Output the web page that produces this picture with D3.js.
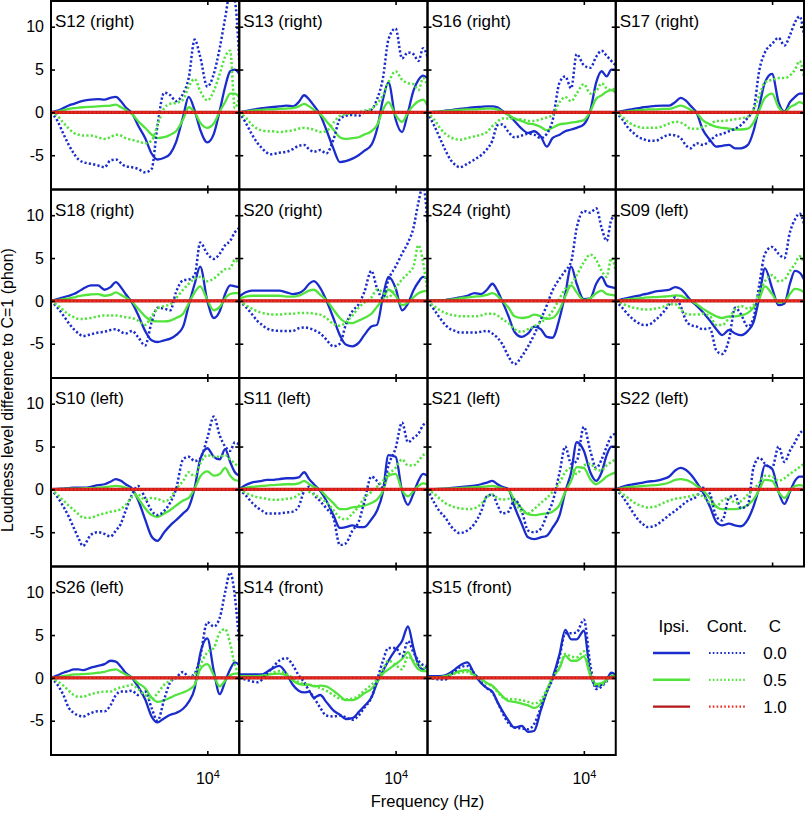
<!DOCTYPE html>
<html><head><meta charset="utf-8">
<script src="https://cdn.jsdelivr.net/npm/d3@7"></script>
<style>
body{margin:0;background:#fff}
svg{display:block}
text{font-family:"Liberation Sans",Arial,Helvetica,sans-serif;fill:#000}
</style>
</head><body>
<svg id="chart" width="805" height="813"></svg>
<script>
// ---------- data ----------
const freqHz = [1000,1100,1200,1300,1400,1500,1600,1800,2000,2200,2400,2600,2800,3000,3300,3600,4000,4400,4800,5300,5800,6300,7000,7600,8300,9000,10000,11000,12000,13000,14000,15000,16000];

const subjects = ["S12 (right)","S13 (right)","S16 (right)","S17 (right)",
                  "S18 (right)","S20 (right)","S24 (right)","S09 (left)",
                  "S10 (left)","S11 (left)","S21 (left)","S22 (left)",
                  "S26 (left)","S14 (front)","S15 (front)"];

// C = 0.0, ipsilateral (solid blue)
const ipsiC0 = [
 [0,0.2,0.5,0.8,1.0,1.2,1.35,1.5,1.55,1.5,1.7,1.8,1.3,0.6,-0.1,-1.5,-3,-4.8,-5.5,-5.3,-4.8,-3.5,-0.5,1.8,0.2,-2,-3.5,-2.5,0.2,3,4.8,5,4.5],
 [0,0.15,0.3,0.4,0.5,0.55,0.6,0.7,0.8,0.7,1.2,2.0,1.5,0.8,-0.3,-2.0,-4.2,-5.8,-5.7,-5.4,-5.0,-4.5,-3.8,-2.0,1.5,3.5,-0.8,-2.3,0,2.5,3.8,4.3,4.0],
 [0,0.05,0.1,0.2,0.25,0.35,0.4,0.5,0.6,0.65,0.7,0.7,0.6,0.2,-0.3,-1.0,-1.9,-2.4,-2.2,-2.8,-4.0,-3.0,-2.6,-2.2,-2.0,-1.8,-1.4,0.2,3.5,4.8,4.2,5.0,5.0],
 [0,0.15,0.3,0.4,0.5,0.6,0.65,0.75,0.8,0.8,1.2,1.7,1.4,0.8,-0.1,-2.0,-3.2,-4.0,-3.9,-3.8,-4.2,-4.2,-3.8,-2.2,0.8,3.5,4.5,1.2,0.1,1.2,1.8,2.2,2.2],
 [0,0.2,0.4,0.6,0.8,1.1,1.4,1.8,1.8,1.3,1.6,2.2,1.6,0.8,-0.2,-1.6,-3.5,-4.6,-4.8,-4.6,-4.4,-4.0,-3.0,-0.5,2.0,4.0,0.0,-2.0,-1.2,0.8,1.8,1.7,1.6],
 [0.5,1.0,1.2,1.2,1.2,1.2,1.2,1.2,1.0,0.8,0.9,1.3,2.0,2.3,1.5,0.1,-2.0,-4.0,-5.1,-5.3,-4.9,-4.0,-3.0,-2.8,0.5,2.8,1.5,-1.1,-0.3,1.2,2.2,2.8,2.6],
 [0,0.02,0.05,0.1,0.2,0.3,0.4,0.6,0.9,0.8,1.3,2.0,1.2,0.0,-1.8,-3.6,-4.2,-3.8,-3.0,-3.3,-4.2,-4.3,-2.0,0.8,4.0,2.0,0.2,0.3,2.0,2.8,1.8,1.6,1.5],
 [0,0.2,0.35,0.5,0.6,0.75,0.85,1.1,1.2,1.3,1.6,1.4,0.8,0.1,-0.6,-1.3,-2.3,-3.3,-4.0,-3.4,-3.8,-4.0,-3.5,-2.5,0.5,3.8,1.5,-0.5,-0.3,2.0,3.5,3.3,2.5],
 [0,0.05,0.1,0.15,0.2,0.2,0.2,0.3,0.5,0.6,0.9,1.2,1.0,0.6,0.1,-1.2,-3.5,-5.5,-6.0,-5.0,-4.2,-3.6,-2.8,-2.1,0.2,3.5,4.8,3.8,3.5,4.7,3.2,2.0,1.6],
 [0,0.5,0.8,0.9,1.0,1.1,1.1,1.2,1.3,1.3,1.4,2.0,1.2,0.6,-0.2,-1.3,-3.0,-4.5,-4.4,-4.2,-4.4,-4.4,-3.5,-2.5,-0.3,4.0,3.8,-0.2,-1.8,-0.5,1.0,1.8,1.6],
 [0,0.02,0.05,0.1,0.15,0.2,0.25,0.35,0.45,0.6,0.8,1.0,0.6,0.3,0,-2.0,-4.0,-5.6,-5.8,-5.6,-5.4,-4.5,-3.0,-0.3,2.0,5.5,4.5,2.0,1.0,2.0,4.0,5.0,5.0],
 [0,0.3,0.5,0.6,0.7,0.8,0.9,1.0,1.2,1.5,2.2,2.5,2.3,1.8,0.8,-0.3,-2.0,-3.8,-4.2,-4.0,-4.2,-4.3,-3.5,-2.0,0.3,2.8,2.4,-0.3,-1.7,-0.3,1.0,1.5,1.5],
 [0,0.3,0.6,0.8,1.0,1.0,0.9,1.2,1.4,1.6,2.0,1.9,1.3,0.6,0,-1.0,-2.5,-4.5,-5.2,-4.7,-4.3,-4.1,-3.6,-2.8,-1.2,2.8,4.6,0.8,-1.9,-0.4,1.0,1.8,1.5],
 [0.4,0.4,0.4,0.4,0.4,0.7,1.0,1.4,0.5,-0.8,-1.5,-1.7,-1.6,-2.3,-2.0,-2.8,-3.8,-4.3,-4.8,-4.7,-4.0,-3.3,-2.3,-0.6,0.8,2.0,3.3,4.3,6.0,3.5,1.5,1.0,1.5],
 [0.2,0.2,0.2,0.3,0.6,1.0,1.4,1.8,0.4,-0.6,-1.2,-1.6,-2.8,-3.8,-5.0,-5.8,-5.6,-6.3,-6.2,-3.8,-1.6,0,2.8,5.6,4.5,4.5,5.5,0.5,-1.0,-0.8,-0.2,0.6,0.3]
];

// C = 0.0, contralateral (dotted blue)
const contC0 = [
 [0,-1,-2.5,-3.8,-4.8,-5.5,-5.8,-6.0,-6.2,-6.4,-5.6,-5.5,-5.9,-6.3,-6.4,-6.6,-7.0,-6.6,-1.5,2.3,2.0,1.3,2.2,4.0,8.5,6.5,3.0,4.5,7.5,11,14,13,6],
 [0,-1.2,-2.5,-3.5,-4.2,-4.7,-4.9,-4.7,-4.6,-4.3,-3.9,-3.8,-4.3,-4.6,-4.4,-4.8,-3.2,-0.8,-0.4,-0.3,-0.4,0,0.3,1.5,4.0,8.5,9.8,6.3,7.0,6.8,6.0,7.5,6.5],
 [0,-1.5,-3.0,-4.4,-5.5,-6.1,-6.4,-6.0,-5.5,-5.0,-4.3,-3.3,-1.5,-1.4,-2.3,-2.9,-2.7,-2.5,-2.6,-3.0,-2.5,-1.0,3.5,4.2,2.8,6.8,5.5,5.2,6.5,7.2,6.6,6.0,5.5],
 [0,-0.8,-1.8,-2.4,-2.9,-3.1,-3.3,-3.3,-2.9,-2.6,-2.7,-3.0,-3.8,-4.2,-3.6,-3.8,-3.3,-2.7,-2.5,-2.2,-1.9,-1.5,-0.6,0.3,5.0,7.0,8.0,8.7,7.8,9.0,10.5,11.2,9.0],
 [0,-0.8,-1.7,-2.6,-3.3,-3.8,-4.1,-3.9,-3.7,-3.6,-3.4,-3.3,-3.6,-3.8,-3.5,-4.2,-5.2,-2.5,-0.8,-0.9,-1.1,1.0,2.4,2.5,3.0,6.8,5.5,4.9,5.5,6.5,7.0,8.0,8.5],
 [0,-0.7,-1.5,-2.3,-2.8,-3.2,-3.4,-3.5,-3.5,-3.5,-3.2,-3.1,-3.2,-3.4,-3.8,-4.5,-5.3,-5.0,-2.8,-1.2,-0.4,1.0,3.5,1.5,0.3,2.5,4.0,5.5,6.8,8.5,11.5,13.5,9],
 [0,-1.0,-2.0,-2.8,-3.3,-3.5,-3.7,-3.7,-3.7,-3.6,-3.5,-3.8,-4.3,-5.0,-6.5,-7.4,-6.5,-5.3,-4.0,-2.2,-0.5,1.2,2.6,3.5,4.6,8.5,10.5,10.3,10.8,8.5,7.0,9.5,10.0],
 [0,-0.8,-1.6,-2.2,-2.6,-2.8,-2.8,-2.2,-1.4,-0.4,0.4,-0.6,-2.2,-2.8,-3.0,-3.3,-3.2,-5.8,-6.2,-4.5,-0.8,-1.5,-3.0,-2.0,2.0,5.5,6.3,5.5,5.0,8.0,9.5,10.2,9.0],
 [0,-0.9,-2.0,-3.2,-4.5,-5.7,-6.6,-5.3,-5.0,-5.2,-5.5,-4.8,-4.0,-2.5,-0.6,0.4,-1.0,-2.5,-3.0,-2.5,-1.5,0.0,3.5,3.8,3.3,3.6,6.0,8.5,6.3,5.0,4.5,5.5,5.2],
 [0,-0.7,-1.5,-2.1,-2.5,-2.8,-2.8,-2.8,-2.7,-2.6,-2.0,-0.2,0.3,-0.6,-1.4,-2.2,-3.3,-6.5,-6.3,-4.8,-3.8,-1.5,1.5,1.0,0.2,2.8,4.8,7.8,5.5,6.0,6.5,7.5,7.8],
 [0,-1.5,-2.6,-3.3,-4.2,-4.8,-5.1,-4.8,-4.0,-2.6,-0.8,-0.6,-1.8,-2.8,-2.6,-1.2,-2.5,-4.8,-5.0,-4.6,-3.0,-1.5,2.0,5.0,3.0,3.3,7.3,4.5,2.5,3.5,5.0,6.2,6.5],
 [0,-0.8,-1.8,-2.8,-3.6,-4.1,-4.4,-4.2,-3.6,-3.0,-2.5,-2.0,-1.5,-1.2,-0.8,0.2,-0.5,-3.2,-3.6,-1.0,-0.7,-2.2,-1.8,2.5,3.7,3.0,2.5,5.0,3.2,4.5,5.5,6.5,7.0],
 [0,-0.8,-2.0,-3.5,-4.1,-4.4,-4.5,-4.1,-3.9,-3.9,-3.2,-2.0,-1.6,-1.6,-1.5,-2.0,-1.6,-3.5,-5.0,-2.5,-0.5,0,0.7,0.1,0.5,2.5,6.5,6.0,7.0,10.0,12.3,9.5,4.0],
 [0,-0.2,-0.4,-0.5,-0.2,0.5,1.0,2.0,2.3,1.5,0.3,-0.5,-1.5,-2.3,-3.5,-4.4,-4.5,-4.4,-4.6,-4.9,-4.4,-3.5,-2.3,-0.3,2.0,3.5,3.5,2.5,4.3,3.0,2.0,1.5,1.4],
 [0,-0.1,-0.2,-0.2,0.3,0.8,1.2,1.4,0.5,-0.5,-1.2,-1.7,-2.8,-4.0,-5.3,-5.8,-5.9,-6.0,-5.4,-3.5,-1.6,-0.2,2.5,5.2,5.2,5.3,6.8,1.5,-1.3,-1.0,-0.4,0.3,0.3]
];

// C = 0.5, ipsilateral (solid green)
const ipsiC05 = [
 [0,0.1,0.25,0.4,0.5,0.55,0.6,0.65,0.7,0.75,0.8,0.9,0.6,0.3,-0.2,-1,-1.8,-2.6,-3.0,-2.9,-2.6,-2.2,-0.8,0.6,0,-1.2,-1.8,-1.3,0.1,1.2,2.2,2.2,1.8],
 [0,0.1,0.2,0.25,0.3,0.35,0.35,0.4,0.45,0.5,0.7,1.0,0.7,0.3,-0.2,-1.0,-2.0,-2.9,-3.1,-3.0,-2.9,-2.6,-2.2,-1.5,0.3,1.2,-0.3,-1.1,0,0.8,1.3,1.5,0.8],
 [0,0.05,0.1,0.15,0.2,0.25,0.3,0.35,0.35,0.4,0.45,0.45,0.35,0.1,-0.3,-0.7,-1.0,-1.3,-1.4,-1.7,-2.1,-1.8,-1.4,-1.3,-1.2,-1.1,-0.9,0.1,1.6,2.0,2.4,2.6,2.3],
 [0,0.05,0.15,0.2,0.25,0.3,0.35,0.35,0.4,0.4,0.6,0.8,0.6,0.3,-0.1,-0.9,-1.4,-1.7,-1.8,-1.9,-2.0,-2.0,-1.9,-1.2,0.3,1.7,2.2,0.6,0.05,0.6,0.9,1.2,1.0],
 [0,0.1,0.2,0.3,0.4,0.55,0.65,0.75,0.8,0.6,0.7,1.0,0.7,0.4,-0.1,-0.9,-1.8,-2.3,-2.4,-2.4,-2.3,-2.0,-1.5,-0.3,1.0,1.7,0.1,-1.1,-0.7,0.3,0.8,0.9,0.9],
 [0.3,0.5,0.6,0.6,0.6,0.6,0.6,0.6,0.5,0.5,0.6,0.9,1.2,1.3,0.7,0.1,-1.0,-2.0,-2.5,-2.6,-2.3,-2.0,-1.5,-0.7,0.2,1.3,0.6,-0.5,-0.2,0.4,0.9,1.1,1.2],
 [0,0.02,0.05,0.1,0.15,0.2,0.3,0.4,0.5,0.55,0.7,0.9,0.6,0.0,-0.8,-1.8,-2.0,-1.9,-1.6,-1.8,-2.1,-2.0,-1.0,0.5,1.8,1.0,0.1,0.3,0.9,1.2,0.8,0.7,0.6],
 [0,0.1,0.2,0.25,0.3,0.35,0.4,0.45,0.5,0.55,0.65,0.6,0.3,0.05,-0.4,-0.9,-1.4,-1.8,-2.0,-1.8,-1.8,-1.7,-1.4,-0.8,0.3,1.7,0.8,-0.2,-0.1,0.8,1.4,1.3,1.0],
 [0,0.02,0.05,0.08,0.1,0.1,0.12,0.15,0.2,0.25,0.35,0.4,0.35,0.2,-0.1,-1.0,-2.2,-3.0,-3.2,-2.8,-2.4,-1.9,-1.3,-1.0,0.1,1.5,2.1,1.6,1.8,2.5,1.6,1.1,1.0],
 [0,0.2,0.3,0.35,0.4,0.45,0.5,0.55,0.6,0.6,0.7,1.0,0.6,0.3,-0.1,-0.8,-1.6,-2.3,-2.3,-2.1,-2.0,-1.9,-1.6,-1.2,-0.2,1.6,1.8,-0.1,-0.8,-0.2,0.4,0.7,0.6],
 [0,0.02,0.05,0.08,0.1,0.12,0.15,0.2,0.25,0.3,0.35,0.4,0.3,0.15,-0.1,-1.2,-2.2,-2.9,-3.0,-2.9,-2.8,-2.6,-1.8,-0.3,1.0,2.6,2.5,1.2,0.6,1.0,1.5,1.8,2.0],
 [0,0.15,0.25,0.3,0.35,0.4,0.45,0.5,0.6,0.8,1.1,1.2,1.1,0.9,0.4,-0.1,-1.0,-2.0,-2.3,-2.3,-2.3,-2.2,-1.8,-1.2,0,1.1,1.0,-0.3,-1.0,-0.2,0.4,0.5,0.4],
 [0,0.1,0.2,0.3,0.4,0.4,0.45,0.5,0.6,0.7,0.9,1.0,0.7,0.4,0,-0.6,-1.2,-2.3,-2.8,-2.6,-2.3,-2.0,-1.7,-1.4,-0.8,1.0,1.6,0.3,-1.0,-0.3,0.3,0.5,0.5],
 [0.2,0.2,0.2,0.2,0.25,0.35,0.45,0.5,0.3,-0.3,-0.7,-0.8,-0.8,-1.0,-0.9,-1.0,-1.5,-2.1,-2.6,-2.6,-2.3,-1.8,-1.3,-0.5,0.5,1.0,1.6,2.2,3.0,1.8,1.0,0.8,0.8],
 [0.1,0.1,0.1,0.2,0.4,0.6,0.8,0.9,0.3,-0.1,-0.6,-0.9,-1.5,-2.1,-2.7,-2.8,-3.0,-3.2,-3.5,-3.0,-1.5,0,1.2,2.6,2.0,2.0,2.5,0.3,-0.7,-0.6,-0.2,0.2,0.2]
];

// C = 0.5, contralateral (dotted green)
const contC05 = [
 [0,-0.4,-1.2,-1.9,-2.4,-2.6,-2.7,-2.7,-2.9,-3.1,-2.9,-2.6,-2.7,-3.0,-3.2,-3.4,-3.6,-3.3,-1.5,0.5,1.0,1.1,1.5,3.0,3.9,2.5,1.4,2.5,4.5,6.5,7.2,0.5,1.8],
 [0,-0.6,-1.4,-1.9,-2.1,-2.2,-2.2,-2.3,-2.2,-2.1,-1.9,-1.8,-1.9,-2.0,-2.3,-2.2,-1.2,-0.4,-0.2,-0.1,0,0.2,0.4,1.0,2.0,3.5,4.8,3.8,3.4,3.3,2.6,4.0,3.0],
 [0,-0.8,-1.8,-2.5,-2.9,-3.1,-3.2,-3.0,-2.8,-2.6,-2.3,-1.6,-1.1,-0.7,-0.7,-0.8,-0.8,-1.0,-1.0,-0.8,-0.6,-0.3,1.2,1.8,1.3,2.2,3.3,2.2,2.5,3.4,2.8,2.6,3.0],
 [0,-0.5,-1.1,-1.5,-1.7,-1.8,-1.8,-1.8,-1.6,-1.3,-1.1,-1.2,-1.5,-1.9,-1.9,-1.7,-1.4,-1.0,-1.0,-0.9,-0.8,-0.7,-0.5,0.3,2.0,3.5,3.8,4.0,4.0,4.3,5.0,6.0,4.0],
 [0,-0.5,-1.1,-1.6,-1.9,-2.1,-2.1,-2.0,-1.8,-1.7,-1.7,-1.7,-1.8,-1.9,-2.0,-2.3,-2.8,-1.8,-0.9,-0.6,-0.4,0.3,1.3,2.0,2.6,2.8,2.3,2.6,3.2,3.7,3.8,4.8,4.2],
 [0,-0.5,-0.9,-1.2,-1.4,-1.5,-1.6,-1.6,-1.5,-1.5,-1.4,-1.4,-1.4,-1.5,-1.6,-2.0,-2.7,-2.9,-2.5,-1.7,-0.8,-0.2,0.4,1.3,1.0,0.4,1.5,2.5,3.2,4.0,6.5,4.5,1.0],
 [0,-0.6,-1.1,-1.4,-1.6,-1.7,-1.8,-1.8,-1.8,-1.7,-1.5,-1.5,-1.7,-2.1,-2.6,-3.3,-3.6,-3.3,-3.0,-2.5,-2.0,-1.2,0.3,1.4,2.0,3.0,4.5,5.4,4.8,3.5,2.8,5.0,3.5],
 [0,-0.3,-0.6,-0.8,-0.9,-1.0,-1.0,-0.9,-0.7,-0.4,-0.4,-1.0,-1.5,-1.6,-1.6,-1.5,-1.8,-2.8,-2.8,-2.0,-1.0,-0.6,-0.9,-0.5,1.0,2.3,3.0,2.3,2.5,3.5,4.3,5.2,4.5],
 [0,-0.6,-1.3,-1.9,-2.4,-2.9,-3.3,-3.3,-3.0,-2.8,-2.6,-2.5,-2.3,-1.8,-0.9,-0.6,-1.2,-1.0,-1.1,-1.4,-1.0,0,1.0,2.0,1.5,3.0,4.0,3.8,3.8,4.0,3.5,3.0,2.6],
 [0,-0.4,-0.7,-0.9,-1.0,-1.1,-1.2,-1.2,-1.1,-1.0,-0.6,0,-0.3,-0.6,-1.0,-1.5,-2.4,-3.3,-3.5,-2.8,-2.0,-1.0,-0.3,0.3,1.0,1.8,2.5,3.5,2.8,2.8,3.3,4.0,4.2],
 [0,-0.5,-1.1,-1.6,-1.9,-2.1,-2.2,-2.3,-2.2,-1.7,-0.9,-0.6,-1.0,-1.2,-1.1,-1.5,-2.6,-2.8,-2.3,-1.6,-1.0,-0.3,0.8,2.0,2.5,1.8,2.8,3.0,2.3,2.2,2.8,3.2,3.5],
 [0,-0.5,-1.0,-1.5,-1.8,-2.0,-2.1,-2.0,-1.6,-1.3,-1.1,-1.0,-0.9,-0.8,-0.6,-0.8,-1.6,-2.0,-1.3,-1.0,-1.6,-1.4,-0.6,0,0.8,1.6,1.5,1.0,1.3,1.8,2.2,2.6,3.0],
 [0,-0.4,-0.9,-1.5,-2.0,-2.2,-2.2,-1.9,-1.7,-1.6,-1.6,-1.3,-1.1,-1.0,-0.8,-1.3,-2.0,-2.5,-1.8,-0.8,-0.3,0,0,0,0.4,1.5,3.0,3.5,5.3,5.7,4.0,1.5,0.5],
 [0,0,0,0.05,0.1,0.3,0.5,0.8,0.5,0,-0.5,-0.7,-0.8,-0.9,-1.2,-1.5,-2.0,-2.4,-2.5,-2.4,-2.1,-1.5,-0.8,-0.2,1.0,2.0,1.5,1.0,2.5,2.0,1.5,1.2,1.0],
 [0,0,0,0.1,0.3,0.5,0.6,0.7,0.2,-0.2,-0.7,-1.0,-1.6,-2.2,-2.5,-2.5,-2.6,-2.8,-3.0,-2.6,-1.3,0,1.2,2.8,2.5,2.4,3.1,0.5,-0.9,-0.8,-0.3,0.3,0.3]
];

// C = 1.0 is the reference condition: difference is zero everywhere
const refC1 = [0,0,0,0,0,0,0,0,0,0,0,0,0,0,0,0,0,0,0,0,0,0,0,0,0,0,0,0,0,0,0,0,0];

const yTicks = [-5, 0, 5, 10];
const xTicks = [10000];
const legendC = ["0.0", "0.5", "1.0"];
const legendHead = ["Ipsi.", "Cont.", "C"];

// ---------- drawing ----------
const colBlue = "#1a2dcc", colGreen = "#52e43c", colRedSolid = "#b4161a", colRedDot = "#ee2a1c";
const svg = d3.select("#chart");
const L0 = 51, T0 = 1, PW = 188.25, PH = 188.5;
const x = d3.scaleLog().domain([1000, 16000]).range([0, PW]);
const y = d3.scaleLinear().domain([-9, 13]).range([PH, 0]);
const line = d3.line().x((d, i) => x(freqHz[i])).y(d => y(d)).curve(d3.curveMonotoneX);

const series = [
  {data: ipsiC0,  color: colBlue,  dash: null, w: 2.3},
  {data: ipsiC05, color: colGreen, dash: null, w: 2.3},
  {data: contC0,  color: colBlue,  dash: "2.2,2.2", w: 2.5},
  {data: contC05, color: colGreen, dash: "2.2,2.2", w: 2.5},
];

const defs = svg.append("defs");
defs.append("clipPath").attr("id", "pclip").append("rect")
  .attr("x", 0).attr("y", 0).attr("width", PW).attr("height", PH);

subjects.forEach((name, k) => {
  const col = k % 4, row = Math.floor(k / 4);
  const g = svg.append("g").attr("transform", `translate(${L0 + col * PW},${T0 + row * PH})`);
  const plot = g.append("g").attr("clip-path", "url(#pclip)");
  series.forEach(s => {
    plot.append("path").attr("d", line(s.data[k])).attr("fill", "none")
      .attr("stroke", s.color).attr("stroke-width", s.w)
      .attr("stroke-dasharray", s.dash).attr("stroke-linejoin", "round");
  });
  plot.append("path").attr("d", line(refC1)).attr("fill", "none")
    .attr("stroke", colRedSolid).attr("stroke-width", 3.2);
  plot.append("path").attr("d", line(refC1)).attr("fill", "none")
    .attr("stroke", colRedDot).attr("stroke-width", 2.4).attr("stroke-dasharray", "3,0.8");

  // axes (ticks inward)
  const axL = d3.axisLeft(y).tickValues(yTicks).tickSizeInner(-4).tickSizeOuter(0)
    .tickPadding(7).tickFormat(col === 0 ? (d => String(d)) : (() => ""));
  const axR = d3.axisRight(y).tickValues(yTicks).tickSizeInner(-4).tickSizeOuter(0).tickFormat(() => "");
  const axT = d3.axisTop(x).tickValues(xTicks).tickSizeInner(-4).tickSizeOuter(0).tickFormat(() => "");
  const axB = d3.axisBottom(x).tickValues(xTicks).tickSizeInner(-4).tickSizeOuter(0).tickPadding(18)
    .tickFormat(() => "");
  const gl = g.append("g").call(axL);
  const gr = g.append("g").attr("transform", `translate(${PW},0)`).call(axR);
  const gt = g.append("g").call(axT);
  const gb = g.append("g").attr("transform", `translate(0,${PH})`).call(axB);
  [gl, gr, gt, gb].forEach(a => {
    a.select(".domain").remove();
    a.selectAll("line").attr("stroke", "#000").attr("stroke-width", 1.6);
    a.selectAll("text").attr("font-family", '"Liberation Sans",Arial,sans-serif').attr("font-size", 16).attr("fill", "#000");
  });
  if (k >= 12) {
    gb.selectAll(".tick text").each(function () {
      const t = d3.select(this);
      t.attr("font-size", 16);
      t.append("tspan").text("10");
      t.append("tspan").text("4").attr("font-size", 11).attr("dy", "-0.55em");
    });
  }
  g.append("rect").attr("width", PW).attr("height", PH).attr("fill", "none")
    .attr("stroke", "#000").attr("stroke-width", 2);
  g.append("text").attr("x", 4).attr("y", 26).attr("font-size", 17).text(name);
});

// axis titles
svg.append("text").attr("x", L0 + 2 * PW).attr("y", 807).attr("text-anchor", "middle")
  .attr("font-size", 16.5).text("Frequency (Hz)");
svg.append("text").attr("transform", `translate(13,${T0 + 2 * PH + 12}) rotate(-90)`)
  .attr("text-anchor", "middle").attr("font-size", 16).text("Loudness level difference to C=1 (phon)");

// legend
const lg = svg.append("g");
const headX = [674, 727, 775];
legendHead.forEach((h, i) => lg.append("text").attr("x", headX[i]).attr("y", 632)
  .attr("text-anchor", "middle").attr("font-size", 17).text(h));
const legSolid = [colBlue, colGreen, colRedSolid];
const legDot = [colBlue, colGreen, colRedDot];
legendC.forEach((c, i) => {
  const yy = 653 + i * 26.8;
  lg.append("line").attr("x1", 653).attr("x2", 690).attr("y1", yy).attr("y2", yy)
    .attr("stroke", legSolid[i]).attr("stroke-width", 2.4);
  lg.append("line").attr("x1", 709).attr("x2", 745).attr("y1", yy).attr("y2", yy)
    .attr("stroke", legDot[i]).attr("stroke-width", 2.2).attr("stroke-dasharray", "1.6,2.2");
  lg.append("text").attr("x", 775).attr("y", yy + 6).attr("text-anchor", "middle")
    .attr("font-size", 17).text(c);
});
</script>
</body></html>
